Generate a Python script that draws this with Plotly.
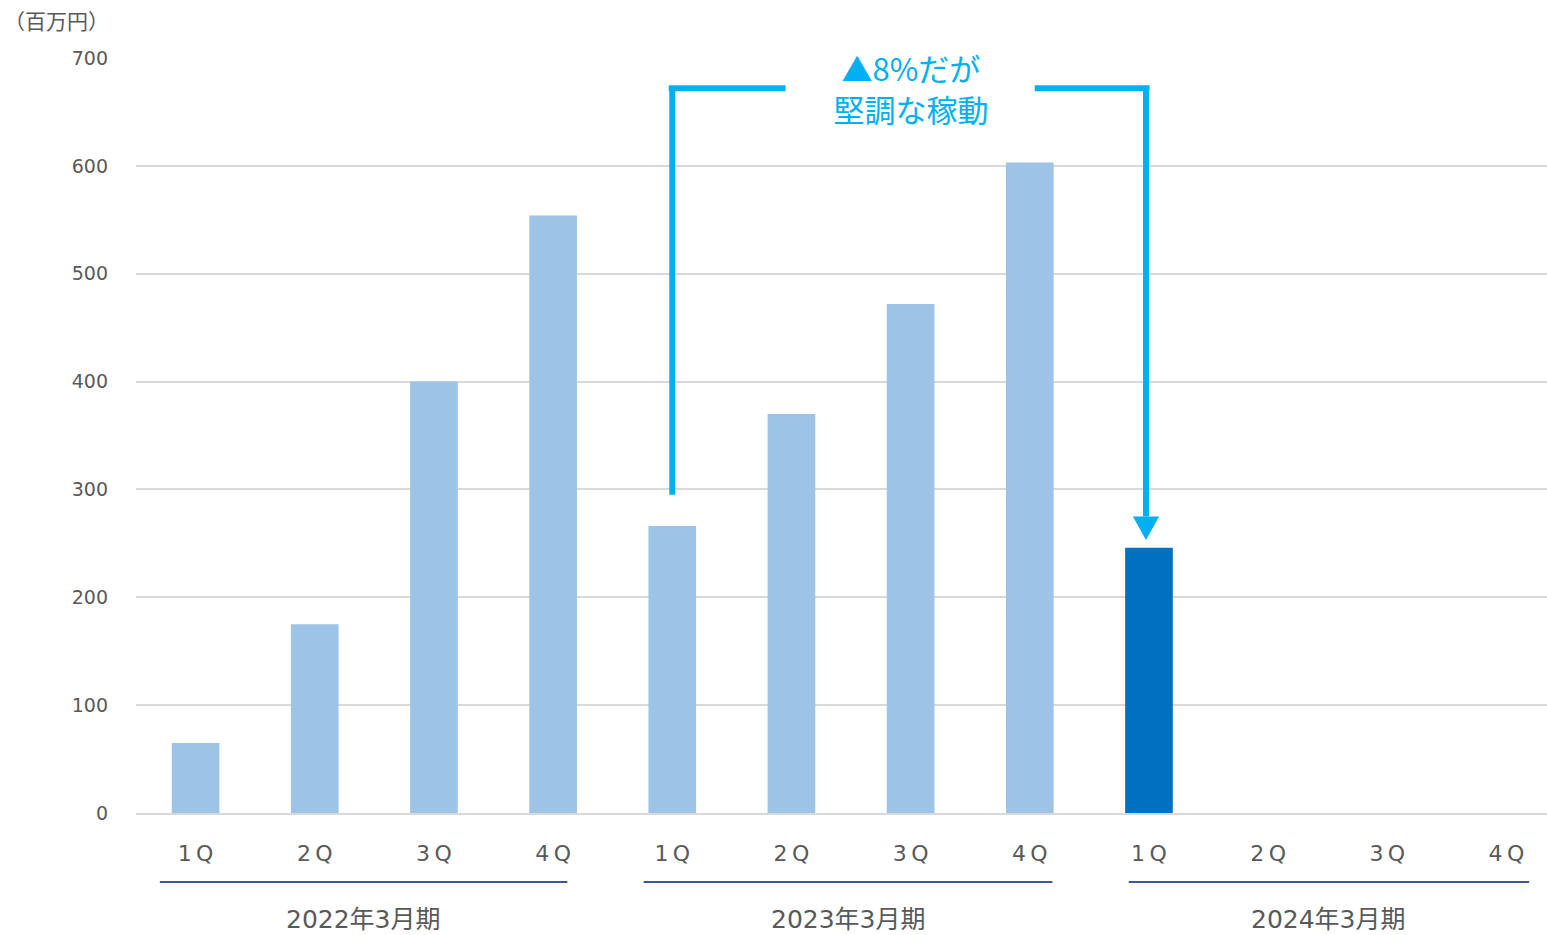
import plotly.graph_objects as go

quarters = ["1Q", "2Q", "3Q", "4Q", "1Q", "2Q", "3Q", "4Q", "1Q", "2Q", "3Q", "4Q"]
values = [65, 175, 400, 554, 266, 370, 472, 603, 246, None, None, None]
bar_colors = ["#9DC3E6"] * 8 + ["#0070C0"] * 4
fiscal_years = ["2022年3月期", "2023年3月期", "2024年3月期"]
y_ticks = [0, 100, 200, 300, 400, 500, 600, 700]
unit_label = "（百万円）"
callout_text = "▲8%だが<br>堅調な稼動"
compare_from, compare_to = 4, 8   # 1Q of 2023 -> 1Q of 2024

CJK = "Noto Sans CJK JP, sans-serif"
LATIN = "DejaVu Sans, Noto Sans CJK JP, sans-serif"
GRAY = "#595959"
CYAN = "#00B0F0"

# span of each fiscal-year underline relative to its first quarter (layout only)
group_spans = [(-0.30, 3.12), (-0.24, 3.19), (-0.17, 3.19)]

x = list(range(len(quarters)))
fig = go.Figure(go.Bar(
    x=x, y=values, marker=dict(color=bar_colors, line=dict(width=0)),
    width=0.40, hoverinfo="skip",
))

fig.update_layout(
    width=1547, height=935,
    margin=dict(l=136, r=0, t=58, b=122),
    plot_bgcolor="white", paper_bgcolor="white",
    showlegend=False,
    font=dict(family=LATIN, color=GRAY),
    xaxis=dict(
        range=[-0.5, 11.34], tickmode="array", tickvals=x,
        ticktext=[q[0] + "\u2009" + q[1:] for q in quarters],
        tickfont=dict(size=22, color=GRAY, family=LATIN), showgrid=False,
        showline=True, linecolor="#D9D9D9", linewidth=1.5,
        ticks="", ticklabelstandoff=20, zeroline=False, fixedrange=True,
    ),
    yaxis=dict(
        range=[0, 700], tickmode="array", tickvals=y_ticks,
        tickfont=dict(size=19, color=GRAY, family=LATIN), showgrid=True,
        gridcolor="#D9D9D9", gridwidth=1.5, zeroline=False,
        showline=False, ticks="", ticklabelstandoff=27, fixedrange=True,
    ),
)

shapes = []
annotations = []

# fiscal-year group underlines and labels
for i, fy in enumerate(fiscal_years):
    start = i * 4
    a, b = group_spans[i]
    shapes.append(dict(type="line", xref="x", yref="paper",
                       x0=start + a, x1=start + b, y0=-0.0914, y1=-0.0914,
                       line=dict(color="#002060", width=1.5)))
    annotations.append(dict(xref="x", yref="paper", x=start + (a + b) / 2, y=-0.141,
                            text=fy, showarrow=False, yanchor="middle",
                            font=dict(size=25, color=GRAY, family=LATIN)))

# unit label
annotations.append(dict(xref="paper", yref="paper", x=-134 / 1411, y=1 + 38 / 755,
                        xanchor="left", yanchor="middle", text=unit_label,
                        showarrow=False, font=dict(size=21, color=GRAY, family=CJK)))

# bracket callout
top_y = 672
y_start = values[compare_from] + 29
y_tip = values[compare_to] + 7
head_len = 22
head_half = 0.11
lw = 6
arrow_x = compare_to - 0.025
shapes += [
    dict(type="line", xref="x", yref="y", x0=compare_from, x1=compare_from,
         y0=y_start, y1=top_y, line=dict(color=CYAN, width=lw)),
    dict(type="line", xref="x", yref="y", x0=compare_from - 0.03, x1=4.95,
         y0=top_y, y1=top_y, line=dict(color=CYAN, width=lw)),
    dict(type="line", xref="x", yref="y", x0=7.04, x1=arrow_x + 0.03,
         y0=top_y, y1=top_y, line=dict(color=CYAN, width=lw)),
    dict(type="line", xref="x", yref="y", x0=arrow_x, x1=arrow_x,
         y0=top_y, y1=y_tip + head_len, line=dict(color=CYAN, width=lw)),
    dict(type="path", xref="x", yref="y",
         path=f"M {arrow_x - head_half},{y_tip + head_len} L {arrow_x + head_half},{y_tip + head_len} L {arrow_x},{y_tip} Z",
         fillcolor=CYAN, line=dict(color=CYAN, width=0)),
]
annotations.append(dict(xref="x", yref="y", x=(compare_from + compare_to) / 2, y=top_y,
                        text=callout_text, showarrow=False, yanchor="middle",
                        bgcolor="white", width=246, height=92, borderpad=0,
                        font=dict(size=31, color=CYAN, family=CJK)))

fig.update_layout(shapes=shapes, annotations=annotations)
fig.write_html(
    "out.html",
    config={"displayModeBar": False},
    post_script="document.body.style.margin='0';document.body.style.overflow='hidden';",
)
